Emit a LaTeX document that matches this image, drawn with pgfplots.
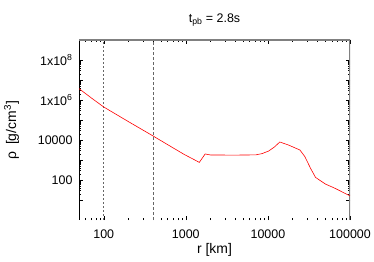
\documentclass[border=0pt]{standalone}
\usepackage{pgfplots}
\pgfplotsset{compat=1.18}
\usepackage{fontspec}
\setmainfont{Liberation Sans}
\begin{document}
\begin{tikzpicture}
\useasboundingbox (0,0) rectangle (374bp,262bp);
\begin{axis}[
  at={(79bp,42bp)}, anchor=south west,
  scale only axis, width=271bp, height=180bp,
  xmode=log, ymode=log,
  xmin=50, xmax=100000, ymin=1, ymax=1e9,
  xtick={100,1000,10000,100000},
  xticklabels={100,1000,10000,100000},
  ytick={10,100,1000,10000,1e5,1e6,1e7,1e8},
  yticklabels={,100,,10000,,{1x10\textsuperscript{6}},,{1x10\textsuperscript{8}}},
  minor xtick={60,70,80,90,200,300,400,500,600,700,800,900,2000,3000,4000,5000,6000,7000,8000,9000,20000,30000,40000,50000,60000,70000,80000,90000},
  tick align=inside,
  major tick length=4bp, minor tick length=2bp,
  tick style={black, line width=0.4pt},
  /pgf/number format/assume math mode=true,
  ticklabel style={font=\fontsize{12.5}{14}\selectfont},
  yticklabel style={xshift=-3bp},
  xticklabel style={yshift=-6bp},
  axis line style={draw=none},
  title={t\textsubscript{pb} = 2.8s},
  title style={font=\fontsize{12.5}{14}\selectfont, yshift=4bp},
  xlabel={r [km]},
  ylabel={ρ\, [g/cm\textsuperscript{3}]},
  label style={font=\fontsize{14}{16}\selectfont},
  ylabel style={yshift=12bp},
  xlabel style={yshift=2bp},
  clip=true,
]
\draw[black, line width=0.7pt] (rel axis cs:0,1) -- (rel axis cs:0,0) -- (rel axis cs:1,0);
\draw[gray, line width=1.4pt] (rel axis cs:0,1) -- (rel axis cs:1,1) -- (rel axis cs:1,0);
\addplot[gray!80!black, dashed, dash pattern=on 2bp off 2bp, line width=0.6pt] coordinates {(100,1) (100,1e9)};
\addplot[gray!80!black, dashed, dash pattern=on 3bp off 2bp, line width=0.6pt] coordinates {(400,1) (400,1e9)};
\addplot[red, line width=0.6pt] coordinates {
(50,3.7e6) (70.8,1.26e6) (100,4.47e5) (200,8.3e4) (400,1.58e4) (631,5.2e3)
(955,1.9e3) (1259,1.05e3) (1460,760) (1720,2000) (2000,1780) (4000,1760) (7080,1800)
(8500,2090) (10230,2820) (12000,4470) (13960,7940) (17780,5620) (24550,3160)
(28180,1480) (33110,380) (38020,135) (50120,63) (66070,38) (100000,16)
};
\end{axis}
\end{tikzpicture}
\end{document}
